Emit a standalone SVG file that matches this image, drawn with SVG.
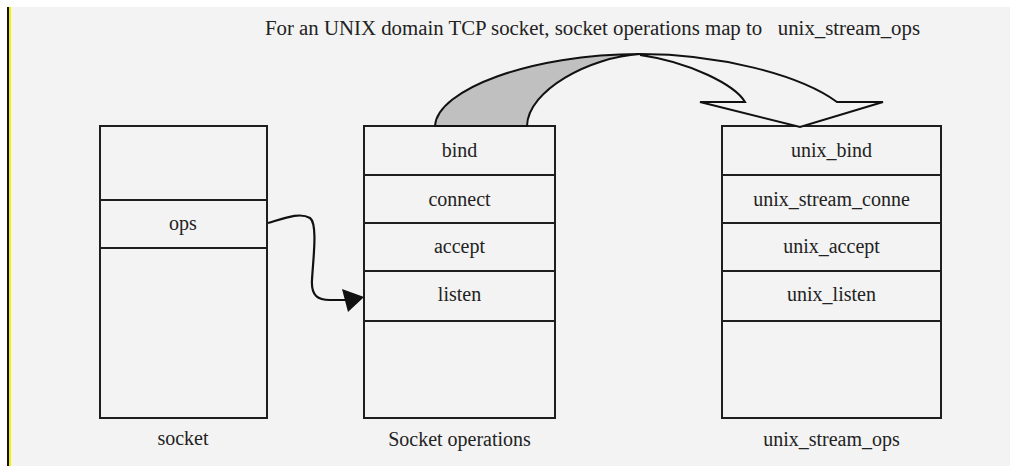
<svg xmlns="http://www.w3.org/2000/svg" width="1010" height="466" viewBox="0 0 1010 466">
<style>
.box{fill:none;stroke:#1e1e1e;stroke-width:2}
.div{stroke:#1e1e1e;stroke-width:2}
.t{font-family:"Liberation Serif","DejaVu Serif",serif;font-size:20px;fill:#222;text-anchor:middle}
.title{font-family:"Liberation Serif","DejaVu Serif",serif;font-size:20px;fill:#222;white-space:pre}
</style>
<rect x="0" y="0" width="1010" height="466" fill="#ffffff"/>
<rect x="11" y="7" width="999" height="459" fill="#f3f3f3"/>
<rect x="7" y="7" width="2" height="459" fill="#111"/>
<rect x="9" y="7" width="2" height="459" fill="#f5f000"/>
<text class="title" x="265" y="35" textLength="655" lengthAdjust="spacingAndGlyphs">For an UNIX domain TCP socket, socket operations map to   unix_stream_ops</text>
<g id="socket">
<rect class="box" x="100" y="126" width="167" height="292"/>
<line class="div" x1="100" y1="200" x2="267" y2="200"/>
<line class="div" x1="100" y1="248" x2="267" y2="248"/>
<text class="t" x="183" y="230">ops</text>
<text class="t" x="183" y="445">socket</text>
</g>
<g id="socket-operations">
<rect class="box" x="364" y="126" width="191" height="292"/>
<line class="div" x1="364" y1="175" x2="555" y2="175"/>
<line class="div" x1="364" y1="223" x2="555" y2="223"/>
<line class="div" x1="364" y1="271" x2="555" y2="271"/>
<line class="div" x1="364" y1="321" x2="555" y2="321"/>
<text class="t" x="459.5" y="157">bind</text>
<text class="t" x="459.5" y="206">connect</text>
<text class="t" x="459.5" y="253">accept</text>
<text class="t" x="459.5" y="301">listen</text>
<text class="t" x="459.5" y="446">Socket operations</text>
</g>
<g id="unix-stream-ops">
<rect class="box" x="722" y="126" width="219" height="292"/>
<line class="div" x1="722" y1="175" x2="941" y2="175"/>
<line class="div" x1="722" y1="223" x2="941" y2="223"/>
<line class="div" x1="722" y1="271" x2="941" y2="271"/>
<line class="div" x1="722" y1="321" x2="941" y2="321"/>
<text class="t" x="831.5" y="157">unix_bind</text>
<text class="t" x="831.5" y="206">unix_stream_conne</text>
<text class="t" x="831.5" y="253">unix_accept</text>
<text class="t" x="831.5" y="301">unix_listen</text>
<text class="t" x="831.5" y="446">unix_stream_ops</text>
</g>
<g id="connectors">
<path d="M435,126 C437,90 530,54 640,54 C590,57 528,90 527,126 Z" fill="#c0c0c0" stroke="#111" stroke-width="2"/>
<path d="M640,54 C720,54 800,75 837,102 L883,102 L800,127 L700,102 L745,102 C735,85 690,62 640,55" fill="#f3f3f3" stroke="#111" stroke-width="2" stroke-linejoin="miter"/>
<path d="M268,223 C285,218 300,212 310,218 C318,224 313,260 312,280 C311,296 318,300 330,300 L346,300" fill="none" stroke="#111" stroke-width="2.2"/>
<polygon points="342,289 364,297 348,312" fill="#111"/>
</g>
</svg>
